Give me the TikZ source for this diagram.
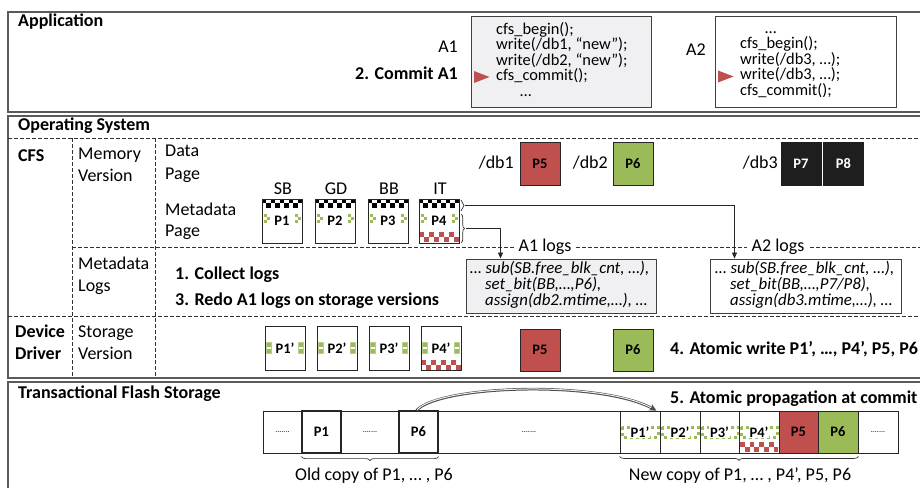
\documentclass[tikz,border=0pt]{standalone}
\usepackage{fontspec}
\setmainfont{Carlito}
\usetikzlibrary{arrows.meta,decorations.pathreplacing,calc}
\definecolor{myred}{HTML}{C0504D}
\definecolor{mygreen}{HTML}{9BBB59}
\definecolor{myblack}{HTML}{1E1E1E}
\definecolor{framegray}{HTML}{5A5A5A}
\definecolor{boxgray}{HTML}{F0F0F2}
% x0, y0, ncols, nrows, size, colour
\newcommand\checkerfill[6]{%
  \foreach \ci in {1,...,#3}{\foreach \cj in {1,...,#4}{%
    \pgfmathtruncatemacro\cm{mod(\ci+\cj,2)}%
    \ifnum\cm=0 \fill[#6] ({#1+(\ci-1)*#5},{#2+(\cj-1)*#5}) rectangle ++(#5,#5);\fi}}}
% storage-version green mark at x0,y0
\newcommand\gmark[2]{%
  \draw[mygreen!70,line width=0.5pt] (#1,#2) rectangle ++(5,11);
  \fill[mygreen] (#1+0.5,#2+0.5) rectangle ++(4,4);
  \fill[mygreen] (#1+0.5,#2+6.5) rectangle ++(4,4);}
\tikzset{
  frame/.style={draw=framegray, line width=1.3pt},
  divline/.style={draw=black!80, line width=0.7pt, dash pattern=on 3.5pt off 2.5pt},
  lab/.style={font=\fontsize{18}{21}\selectfont, inner sep=0pt, anchor=west, text height=12pt, text depth=3.5pt},
  ttl/.style={lab, font=\fontsize{18}{21}\selectfont\bfseries},
  codet/.style={font=\fontsize{16.4}{15}\selectfont, inner sep=0pt, anchor=west, text height=10pt, text depth=3pt},
  logt/.style={codet, font=\fontsize{16.8}{15}\selectfont\itshape},
  page/.style={draw=black!85, line width=0.9pt, minimum width=40pt, minimum height=44pt, inner sep=0pt, font=\fontsize{14.5}{15}\selectfont\bfseries},
  cell/.style={draw=black!85, line width=0.8pt, minimum height=42pt, inner sep=0pt, font=\fontsize{14.5}{15}\selectfont\bfseries},
  codebox/.style={draw=black!75, line width=1pt, inner sep=0pt},
  dots/.style={font=\fontsize{8}{8}\selectfont, inner sep=0pt},
  conn/.style={draw=black!85, line width=0.8pt},
  brc/.style={draw=black!80, line width=0.7pt, decorate},
}
\begin{document}
\begin{tikzpicture}[x=1pt,y=-1pt]
\useasboundingbox (0,0) rectangle (920,487);

% ================= Application =================
\draw[frame] (921,12) -- (8,12) -- (8,112) -- (921,112);
\node[ttl] (app) at (18,22) {Application};
\node[lab, anchor=east] (a1) at (458,48) {A1};
\node[ttl, anchor=east] (commit) at (458,75) {2. Commit A1};
\node[codebox, fill=boxgray, minimum width=180pt, minimum height=91pt, anchor=north west] (cb1) at (471,16) {};
\node[codet] (c11) at (496,31) {cfs\_begin();};
\node[codet] (c12) at (496,46.4) {write(/db1, “new”);};
\node[codet] (c13) at (496,61.8) {write(/db2, “new”);};
\node[codet] (c14) at (496,77.2) {cfs\_commit();};
\node[codet] (c15) at (520,92.6) {…};
\fill[myred] (474,71) -- (489.5,77) -- (474,83) -- cycle;
\node[lab] (a2) at (686,51) {A2};
\node[codebox, fill=white, minimum width=181pt, minimum height=91pt, anchor=north west] (cb2) at (715,16) {};
\node[codet] (c21) at (765,30) {…};
\node[codet] (c22) at (740,45) {cfs\_begin();};
\node[codet] (c23) at (740,60.5) {write(/db3, …);};
\node[codet] (c24) at (740,76) {write(/db3, …);};
\node[codet] (c25) at (740,91.5) {cfs\_commit();};
\fill[myred] (718,70.5) -- (733.5,76.5) -- (718,82.5) -- cycle;

% ================= Operating System / Device Driver =================
\draw[frame] (921,116) -- (8,116) -- (8,378) -- (921,378);
\node[ttl] (os) at (18,126) {Operating System};
\draw[divline] (8,138) -- (920,138);
\draw[divline] (72,138) -- (72,378);
\draw[divline] (155,138) -- (155,378);
\draw[divline] (72,247) -- (920,247);
\draw[divline] (8,316) -- (920,316);

\node[ttl] (cfs) at (18,157) {CFS};
\node[lab] (memA) at (78,155) {Memory};
\node[lab] (memB) at (78,177) {Version};
\node[lab] (dpA) at (165,152) {Data};
\node[lab] (dpB) at (165,175) {Page};
\node[lab] (mpA) at (165,211) {Metadata};
\node[lab] (mpB) at (165,232) {Page};
\node[lab] (mlA) at (78,265) {Metadata};
\node[lab] (mlB) at (78,287) {Logs};
\node[ttl] (step1) at (175,275) {1. Collect logs};
\node[ttl] (step3) at (175,301) {3. Redo A1 logs on storage versions};
\node[ttl] (ddA) at (15,333) {Device};
\node[ttl] (ddB) at (15,355) {Driver};
\node[lab] (svA) at (78,333) {Storage};
\node[lab] (svB) at (78,355) {Version};

% metadata pages (memory version)
\foreach \px/\nm/\lb/\tl in {262/m1/P1/SB, 315/m2/P2/GD, 368/m3/P3/BB, 419/m4/P4/IT}{
  \checkerfill{\px}{199}{9}{2}{4.444}{black}
  \checkerfill{\px+1.5}{214}{2}{3}{3}{mygreen}
  \checkerfill{\px+32.5}{214}{2}{3}{3}{mygreen}
  \node[lab, anchor=center] (\nm l) at (\px+21,190) {\tl};
}
\checkerfill{419}{232}{8}{2}{5}{myred}
\node[page] (m1) at (282,221) {P1};
\node[page] (m2) at (335,221) {P2};
\node[page] (m3) at (388,221) {P3};
\node[page] (m4) at (439,221) {P4};

% data pages
\node[lab, anchor=east] (db1) at (514,164) {/db1};
\node[page, fill=myred, minimum height=43pt] (d5) at (540,163.5) {P5};
\node[lab, anchor=east] (db2) at (608,164) {/db2};
\node[page, fill=mygreen, minimum height=43pt] (d6) at (633,163.5) {P6};
\node[lab, anchor=east] (db3) at (778,164) {/db3};
\node[page, fill=myblack, draw=myblack, text=white, minimum height=43pt] (d7) at (801,163.5) {P7};
\node[page, fill=myblack, draw=myblack, text=white, minimum height=43pt] (d8) at (843.5,163.5) {P8};

% braces at P4 and connectors to logs
\draw[brc, decoration={brace, amplitude=3pt}] (461,200) -- (461,211) coordinate[midway] (bt0);
\draw[brc, decoration={brace, amplitude=3.5pt}] (461,214) -- (461,243) coordinate[midway] (bb0);
\coordinate (bt) at ($(bt0)+(4,0)$);
\coordinate (bb) at ($(bb0)+(4.5,0)$);

% log labels and boxes
\node[lab, anchor=center, fill=white, inner xsep=5pt] (a1logs) at (545,247) {A1 logs};
\node[lab, anchor=center, fill=white, inner xsep=5pt] (a2logs) at (778,247) {A2 logs};
\node[codebox, fill=boxgray, minimum width=190pt, minimum height=54pt] (l1) at (561,286) {};
\node[codebox, fill=white, minimum width=191pt, minimum height=54pt] (l2) at (805.5,286) {};
\node[logt] (l11) at (470,270) {… sub(SB.free\_blk\_cnt, …),};
\node[logt] (l12) at (485,286) {set\_bit(BB,…,P6),};
\node[logt] (l13) at (485,302) {assign(db2.mtime,…), …};
\node[logt] (l21) at (715,270) {… sub(SB.free\_blk\_cnt, …),};
\node[logt] (l22) at (730,286) {set\_bit(BB,…,P7/P8),};
\node[logt] (l23) at (730,302) {assign(db3.mtime,…), …};

\draw[conn, -{Triangle[length=6pt,width=5pt]}] (bt) -| ($(l2.north west)+(25,0)$);
\draw[conn, -{Triangle[length=6pt,width=5pt]}] (bb) -| ($(l1.north west)+(35,0)$);

% storage version pages
\foreach \px in {265,317,369,421}{
  \gmark{\px+1.5}{342}
  \gmark{\px+33.5}{342}
}
\checkerfill{421}{360}{8}{2}{5}{myred}
\node[page] (s1) at (285,348.5) {P1’};
\node[page] (s2) at (337,348.5) {P2’};
\node[page] (s3) at (389,348.5) {P3’};
\node[page] (s4) at (441,348.5) {P4’};
\node[page, fill=myred, minimum height=42pt] (s5) at (540,350) {P5};
\node[page, fill=mygreen, minimum height=42pt] (s6) at (633,350) {P6};
\node[ttl] (step4) at (670,350) {4. Atomic write P1’, …, P4’, P5, P6};

% ================= Transactional Flash Storage =================
\draw[frame] (921,382) -- (8,382) -- (8,490);
\node[ttl] (tfs) at (18,394) {Transactional Flash Storage};
\node[ttl] (step5) at (670,399) {5. Atomic propagation at commit};

\foreach \px in {620,660,700,739}{
  \draw[mygreen, line width=3pt, dash pattern=on 3pt off 3pt] (\px+2,427) rectangle (\px+38,437);
}
\checkerfill{740}{442}{8}{2}{4.8}{myred}

\node[cell, minimum width=39pt] (f1) at (282.5,432) {};
\node[dots] at (f1) {.......};
\node[cell, minimum width=39pt, line width=1.2pt] (f2) at (321.5,432) {P1};
\node[cell, minimum width=58pt] (f3) at (370,432) {};
\node[dots] at (f3) {.......};
\node[cell, minimum width=39pt, line width=1.2pt] (f4) at (418.5,432) {P6};
\node[cell, minimum width=182pt] (f5) at (529,432) {};
\node[dots] at (f5) {.......};
\node[cell, minimum width=40pt] (f6) at (640,432) {};
\node[cell, minimum width=40pt] (f7) at (680,432) {};
\node[cell, minimum width=39pt] (f8) at (719.5,432) {};
\node[cell, minimum width=40pt] (f9) at (759,432) {};
\node[cell, minimum width=39pt, fill=myred] (f10) at (798.5,432) {P5};
\node[cell, minimum width=40pt, fill=mygreen] (f11) at (838,432) {P6};
\node[cell, minimum width=40pt] (f12) at (878,432) {};
\node[dots] at (f12) {.......};
\foreach \f/\t in {f6/P1’, f7/P2’, f8/P3’, f9/P4’}{
  \node[font=\fontsize{14.5}{15}\selectfont\bfseries, fill=white, inner xsep=1pt, inner ysep=0.5pt] at (\f) {\t};
}

% curved propagation arrow
\draw[gray!60!black, line width=2.6pt, -{Stealth[length=7pt,width=7pt]}]
  ($(f4.north)+(-2,0)$) .. controls (440,385) and (600,380) .. ($(f6.north east)+(-4,0)$);
\draw[gray!15, line width=1pt, shorten >=6pt, shorten <=1pt]
  ($(f4.north)+(-2,0)$) .. controls (440,385) and (600,380) .. ($(f6.north east)+(-4,0)$);

% braces under the row
\draw[brc, decoration={brace, mirror, amplitude=4pt}] ($(f2.south west)+(0,3)$) -- ($(f4.south east)+(0,3)$);
\draw[brc, decoration={brace, mirror, amplitude=4pt}] ($(f6.south west)+(0,3)$) -- ($(f11.south east)+(0,3)$);
\node[lab, anchor=center] (oldc) at (374,476) {Old copy of P1, … , P6};
\node[lab, anchor=center] (newc) at (740,476) {New copy of P1, … , P4’, P5, P6};
\end{tikzpicture}
\end{document}
